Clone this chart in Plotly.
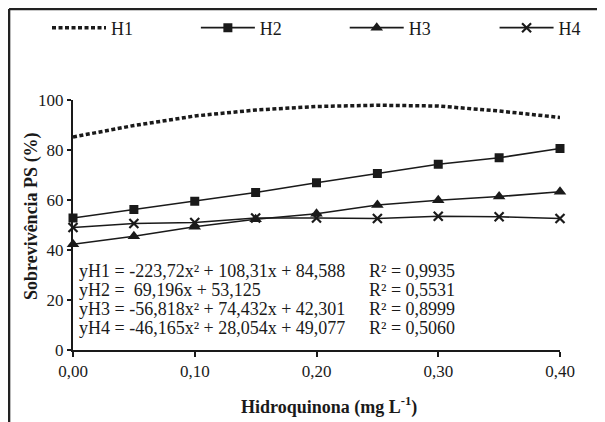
import plotly.graph_objects as go

x_vals = [0.00, 0.05, 0.10, 0.15, 0.20, 0.25, 0.30, 0.35, 0.40]
h1 = [85.2, 89.8, 93.6, 96.0, 97.4, 97.9, 97.6, 95.6, 93.0]
h2 = [52.8, 56.2, 59.5, 63.0, 66.9, 70.6, 74.3, 76.9, 80.6]
h3 = [42.3, 45.5, 49.3, 52.3, 54.5, 58.0, 59.9, 61.4, 63.3]
h4 = [49.0, 50.6, 51.0, 52.8, 52.8, 52.6, 53.5, 53.3, 52.6]
series_names = ["H1", "H2", "H3", "H4"]

x_ticks = [0.0, 0.1, 0.2, 0.3, 0.4]
x_ticklabels = ["0,00", "0,10", "0,20", "0,30", "0,40"]
y_ticks = [0, 20, 40, 60, 80, 100]
y_ticklabels = ["0", "20", "40", "60", "80", "100"]

equations = [
    "yH1 = -223,72x² + 108,31x + 84,588",
    "yH2 =  69,196x + 53,125",
    "yH3 = -56,818x² + 74,432x + 42,301",
    "yH4 = -46,165x² + 28,054x + 49,077",
]
r2_labels = ["R² = 0,9935", "R² = 0,5531", "R² = 0,8999", "R² = 0,5060"]

FONT = "Liberation Serif"
INK = "#1a1a1a"

# page offset (body margin) compensation
OFF = 8
W, H = 605, 422
L, T = 73 - OFF, 100 - OFF
R = W - (560.5 - OFF)
B = H - (350 - OFF)
pw, ph = W - L - R, H - T - B


def px_x(p):
    return (p - OFF - L) / pw


def px_y(p):
    return (H - B - (p - OFF)) / ph


legend_ids = ["legend", "legend2", "legend3", "legend4"]

fig = go.Figure()
fig.add_trace(go.Scatter(x=x_vals, y=h1, name=series_names[0], mode="lines",
                         line=dict(color=INK, width=3.5, dash="4px,2.5px"),
                         cliponaxis=False, legend=legend_ids[0]))
fig.add_trace(go.Scatter(x=x_vals, y=h2, name=series_names[1], mode="lines+markers",
                         line=dict(color=INK, width=1.7),
                         marker=dict(symbol="square", size=9, color=INK),
                         cliponaxis=False, legend=legend_ids[1]))
fig.add_trace(go.Scatter(x=x_vals, y=h3, name=series_names[2], mode="lines+markers",
                         line=dict(color=INK, width=1.7),
                         marker=dict(symbol="triangle-up", size=11, color=INK),
                         cliponaxis=False, legend=legend_ids[2]))
fig.add_trace(go.Scatter(x=x_vals, y=h4, name=series_names[3], mode="lines+markers",
                         line=dict(color=INK, width=1.7),
                         marker=dict(symbol="x-thin", size=9, color=INK,
                                     line=dict(color=INK, width=2.2)),
                         cliponaxis=False, legend=legend_ids[3]))

annotations = []
eq_rows = [271, 290, 309, 327.5]
for eq, r2, yy in zip(equations, r2_labels, eq_rows):
    annotations.append(dict(xref="paper", yref="paper", x=px_x(77), y=px_y(yy),
                            text=eq, showarrow=False, xanchor="left", yanchor="middle",
                            font=dict(family=FONT, size=18, color=INK)))
    annotations.append(dict(xref="paper", yref="paper", x=px_x(367), y=px_y(yy),
                            text=r2, showarrow=False, xanchor="left", yanchor="middle",
                            font=dict(family=FONT, size=18, color=INK)))

annotations.append(dict(xref="paper", yref="paper", x=px_x(31), y=px_y(216),
                        text="<b>Sobrevivência PS (%)</b>", textangle=-90, showarrow=False,
                        xanchor="center", yanchor="middle",
                        font=dict(family=FONT, size=18, color=INK)))
annotations.append(dict(xref="paper", yref="paper", x=px_x(329), y=px_y(406),
                        text="<b>Hidroquinona (mg L<sup>-1</sup>)</b>", showarrow=False,
                        xanchor="center", yanchor="middle",
                        font=dict(family=FONT, size=18, color=INK)))

shapes = [
    dict(type="line", xref="paper", yref="paper", x0=px_x(9), x1=px_x(9),
         y0=px_y(9), y1=px_y(440), line=dict(color="#222", width=2.5)),
    dict(type="line", xref="paper", yref="paper", x0=px_x(9), x1=px_x(640),
         y0=px_y(9), y1=px_y(9), line=dict(color="#222", width=2.5)),
]

legend_x_page = [47, 196, 345, 495]
legend_common = dict(orientation="h", yanchor="middle", xanchor="left",
                     font=dict(family=FONT, size=18, color=INK),
                     itemwidth=54, bgcolor="rgba(0,0,0,0)", borderwidth=0)
legend_layout = {}
for lid, lx in zip(legend_ids, legend_x_page):
    legend_layout[lid] = dict(x=px_x(lx), y=px_y(28), **legend_common)

fig.update_layout(
    width=W, height=H,
    margin=dict(l=L, r=R, t=T, b=B, autoexpand=False),
    paper_bgcolor="white", plot_bgcolor="white",
    font=dict(family=FONT, size=17, color=INK),
    showlegend=True,
    annotations=annotations,
    shapes=shapes,
    xaxis=dict(range=[0, 0.4], tickvals=x_ticks, ticktext=x_ticklabels,
               showgrid=False, zeroline=False, showline=True, linecolor=INK, linewidth=2,
               ticks="outside", ticklen=5, tickwidth=2, tickcolor=INK,
               tickfont=dict(family=FONT, size=17, color=INK)),
    yaxis=dict(range=[0, 100], tickvals=y_ticks, ticktext=y_ticklabels,
               showgrid=False, zeroline=False, showline=True, linecolor=INK, linewidth=2,
               ticks="outside", ticklen=4, tickwidth=2, tickcolor=INK,
               tickfont=dict(family=FONT, size=17, color=INK)),
    **legend_layout,
)

fig.write_html("out.html")
